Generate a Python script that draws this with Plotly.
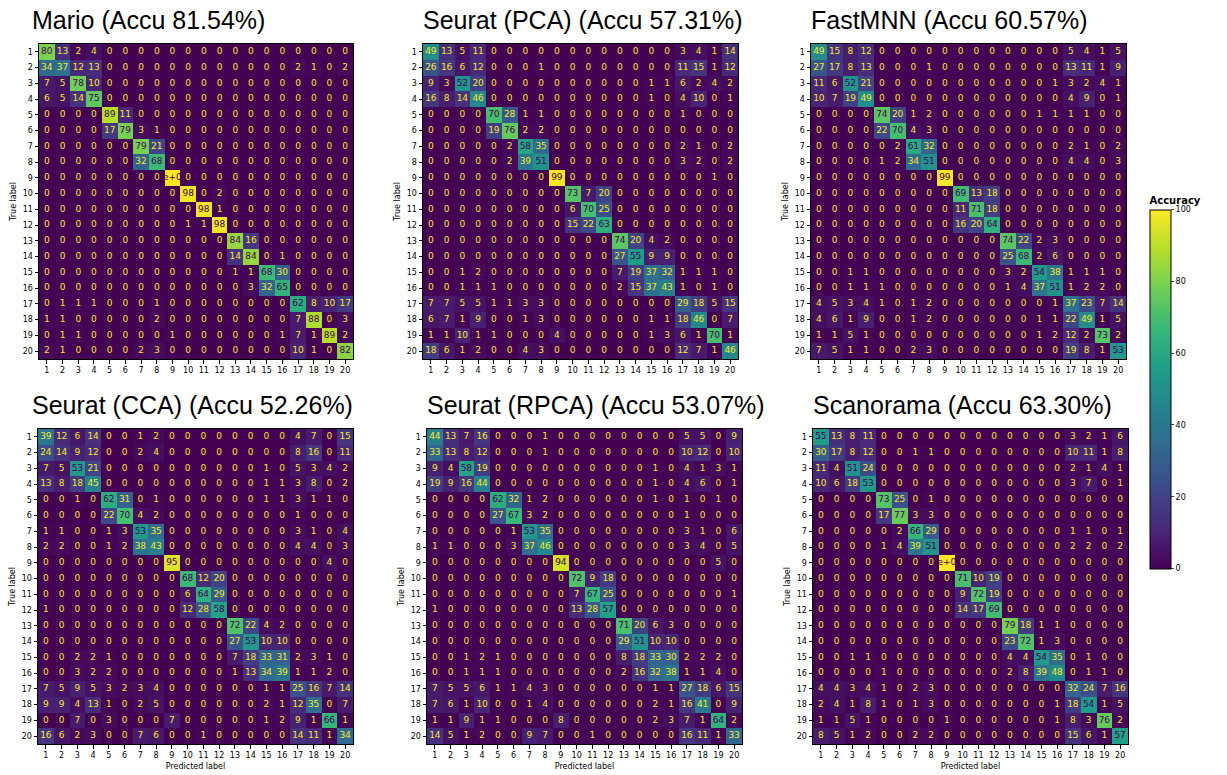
import plotly.graph_objects as go

W, H = 1227, 775

labels = [str(i) for i in range(1, 21)]

mario = [
    [80, 13, 2, 4, 0, 0, 0, 0, 0, 0, 0, 0, 0, 0, 0, 0, 0, 0, 0, 0],
    [34, 37, 12, 13, 0, 0, 0, 0, 0, 0, 0, 0, 0, 0, 0, 0, 2, 1, 0, 2],
    [7, 5, 78, 10, 0, 0, 0, 0, 0, 0, 0, 0, 0, 0, 0, 0, 0, 0, 0, 0],
    [6, 5, 14, 75, 0, 0, 0, 0, 0, 0, 0, 0, 0, 0, 0, 0, 0, 0, 0, 0],
    [0, 0, 0, 0, 89, 11, 0, 0, 0, 0, 0, 0, 0, 0, 0, 0, 0, 0, 0, 0],
    [0, 0, 0, 0, 17, 79, 3, 1, 0, 0, 0, 0, 0, 0, 0, 0, 0, 0, 0, 0],
    [0, 0, 0, 0, 0, 0, 79, 21, 0, 0, 0, 0, 0, 0, 0, 0, 0, 0, 0, 0],
    [0, 0, 0, 0, 0, 0, 32, 68, 0, 0, 0, 0, 0, 0, 0, 0, 0, 0, 0, 0],
    [0, 0, 0, 0, 0, 0, 0, 0, 100, 0, 0, 0, 0, 0, 0, 0, 0, 0, 0, 0],
    [0, 0, 0, 0, 0, 0, 0, 0, 0, 98, 0, 2, 0, 0, 0, 0, 0, 0, 0, 0],
    [0, 0, 0, 0, 0, 0, 0, 0, 0, 0, 98, 1, 0, 0, 0, 0, 0, 0, 0, 0],
    [0, 0, 0, 0, 0, 0, 0, 0, 0, 1, 1, 98, 0, 0, 0, 0, 0, 0, 0, 0],
    [0, 0, 0, 0, 0, 0, 0, 0, 0, 0, 0, 0, 84, 16, 0, 0, 0, 0, 0, 0],
    [0, 0, 0, 0, 0, 0, 0, 0, 0, 0, 0, 0, 14, 84, 0, 1, 0, 0, 0, 0],
    [0, 0, 0, 0, 0, 0, 0, 0, 0, 0, 0, 0, 1, 1, 68, 30, 0, 0, 0, 0],
    [0, 0, 0, 0, 0, 0, 0, 0, 0, 0, 0, 0, 0, 3, 32, 65, 0, 0, 0, 0],
    [0, 1, 1, 1, 0, 0, 0, 1, 0, 0, 0, 0, 0, 0, 0, 0, 62, 8, 10, 17],
    [1, 1, 0, 0, 0, 0, 0, 2, 0, 0, 0, 0, 0, 0, 0, 0, 7, 88, 0, 3],
    [0, 1, 1, 0, 0, 0, 0, 0, 1, 0, 0, 0, 0, 0, 0, 1, 7, 1, 89, 2],
    [2, 1, 0, 0, 0, 0, 2, 3, 0, 0, 0, 0, 0, 0, 0, 0, 10, 1, 0, 82],
]

seurat_pca = [
    [49, 13, 5, 11, 0, 0, 0, 0, 0, 0, 0, 0, 0, 0, 0, 0, 3, 4, 1, 14],
    [26, 16, 6, 12, 0, 0, 0, 1, 0, 0, 0, 0, 0, 0, 0, 0, 11, 15, 1, 12],
    [9, 3, 52, 20, 0, 0, 0, 0, 0, 0, 0, 0, 0, 0, 1, 1, 6, 2, 4, 2],
    [16, 8, 14, 46, 0, 0, 0, 0, 0, 0, 0, 0, 0, 0, 1, 0, 4, 10, 0, 1],
    [0, 0, 0, 0, 70, 28, 1, 1, 0, 0, 0, 0, 0, 0, 0, 0, 1, 0, 0, 0],
    [0, 0, 0, 0, 19, 76, 2, 2, 0, 0, 0, 0, 0, 0, 0, 0, 0, 0, 0, 0],
    [0, 0, 0, 0, 0, 2, 58, 35, 0, 0, 0, 0, 0, 0, 0, 0, 2, 1, 0, 2],
    [0, 0, 0, 0, 0, 2, 39, 51, 0, 0, 0, 0, 0, 0, 0, 0, 3, 2, 0, 2],
    [0, 0, 0, 0, 0, 0, 0, 0, 99, 0, 0, 0, 0, 0, 0, 0, 0, 0, 1, 0],
    [0, 0, 0, 0, 0, 0, 0, 0, 0, 73, 7, 20, 0, 0, 0, 0, 0, 0, 0, 0],
    [0, 0, 0, 0, 0, 0, 0, 0, 0, 6, 70, 25, 0, 0, 0, 0, 0, 0, 0, 0],
    [0, 0, 0, 0, 0, 0, 0, 0, 0, 15, 22, 63, 0, 0, 0, 0, 0, 0, 0, 0],
    [0, 0, 0, 0, 0, 0, 0, 0, 0, 0, 0, 0, 74, 20, 4, 2, 0, 0, 0, 0],
    [0, 0, 0, 0, 0, 0, 0, 0, 0, 0, 0, 0, 27, 55, 9, 9, 0, 0, 0, 0],
    [0, 0, 1, 2, 0, 0, 0, 0, 0, 0, 0, 0, 7, 19, 37, 32, 1, 1, 1, 0],
    [0, 0, 1, 1, 1, 0, 0, 0, 0, 0, 0, 0, 2, 15, 37, 43, 1, 0, 1, 0],
    [7, 7, 5, 5, 1, 1, 3, 3, 0, 0, 0, 0, 0, 0, 0, 0, 29, 18, 5, 15],
    [6, 7, 1, 9, 0, 0, 1, 3, 0, 0, 0, 0, 0, 0, 1, 1, 18, 46, 0, 7],
    [1, 1, 10, 1, 1, 0, 0, 0, 4, 0, 0, 0, 0, 0, 1, 3, 6, 1, 70, 1],
    [18, 6, 1, 2, 0, 0, 4, 3, 0, 0, 0, 0, 0, 0, 0, 0, 12, 7, 1, 46],
]

fastmnn = [
    [49, 15, 8, 12, 0, 0, 0, 0, 0, 0, 0, 0, 0, 0, 0, 0, 5, 4, 1, 5],
    [27, 17, 8, 13, 0, 0, 0, 1, 0, 0, 0, 0, 0, 0, 0, 0, 13, 11, 1, 9],
    [11, 6, 52, 21, 0, 0, 0, 0, 0, 0, 0, 0, 0, 0, 0, 1, 3, 2, 4, 1],
    [10, 7, 19, 49, 0, 0, 0, 0, 0, 0, 0, 0, 0, 0, 0, 0, 4, 9, 0, 1],
    [0, 0, 0, 0, 74, 20, 1, 2, 0, 0, 0, 0, 0, 0, 1, 1, 1, 1, 0, 0],
    [0, 0, 0, 0, 22, 70, 4, 3, 0, 0, 0, 0, 0, 0, 0, 0, 0, 0, 0, 0],
    [0, 0, 0, 0, 0, 2, 61, 32, 0, 0, 0, 0, 0, 0, 0, 0, 2, 1, 0, 2],
    [0, 0, 0, 0, 1, 2, 34, 51, 0, 0, 0, 0, 0, 0, 0, 0, 4, 4, 0, 3],
    [0, 0, 0, 0, 0, 0, 0, 0, 99, 0, 0, 0, 0, 0, 0, 0, 0, 0, 0, 0],
    [0, 0, 0, 0, 0, 0, 0, 0, 0, 69, 13, 18, 0, 0, 0, 0, 0, 0, 0, 0],
    [0, 0, 0, 0, 0, 0, 0, 0, 0, 11, 71, 18, 0, 0, 0, 0, 0, 0, 0, 0],
    [0, 0, 0, 0, 0, 0, 0, 0, 0, 16, 20, 64, 0, 0, 0, 0, 0, 0, 0, 0],
    [0, 0, 0, 0, 0, 0, 0, 0, 0, 0, 0, 0, 74, 22, 2, 3, 0, 0, 0, 0],
    [0, 0, 0, 0, 0, 0, 0, 0, 0, 0, 0, 0, 25, 68, 2, 6, 0, 0, 0, 0],
    [0, 0, 1, 1, 0, 0, 0, 0, 0, 0, 0, 0, 3, 2, 54, 38, 1, 1, 1, 0],
    [0, 0, 1, 1, 1, 0, 0, 0, 0, 0, 0, 0, 1, 4, 37, 51, 1, 2, 2, 0],
    [4, 5, 3, 4, 1, 0, 1, 2, 0, 0, 0, 0, 0, 0, 0, 1, 37, 23, 7, 14],
    [4, 6, 1, 9, 0, 0, 1, 2, 0, 0, 0, 0, 0, 0, 1, 1, 22, 49, 1, 5],
    [1, 1, 5, 1, 0, 0, 0, 0, 0, 0, 0, 0, 0, 0, 1, 2, 12, 2, 73, 2],
    [7, 5, 1, 1, 0, 0, 2, 3, 0, 0, 0, 0, 0, 0, 0, 0, 19, 8, 1, 53],
]

seurat_cca = [
    [39, 12, 6, 14, 0, 0, 1, 2, 0, 0, 0, 0, 0, 0, 0, 0, 4, 7, 0, 15],
    [24, 14, 9, 12, 0, 0, 2, 4, 0, 0, 0, 0, 0, 0, 0, 0, 8, 16, 0, 11],
    [7, 5, 53, 21, 0, 0, 0, 0, 0, 0, 0, 0, 0, 0, 1, 0, 5, 3, 4, 2],
    [13, 8, 18, 45, 0, 0, 0, 0, 0, 0, 0, 0, 0, 0, 1, 1, 3, 8, 0, 2],
    [0, 0, 1, 0, 62, 31, 0, 1, 0, 0, 0, 0, 0, 0, 1, 1, 3, 1, 1, 0],
    [0, 0, 0, 0, 22, 70, 4, 2, 0, 0, 0, 0, 0, 0, 0, 0, 1, 0, 0, 0],
    [1, 1, 0, 0, 1, 3, 53, 35, 0, 0, 0, 0, 0, 0, 0, 0, 3, 1, 0, 4],
    [2, 2, 0, 0, 1, 2, 38, 43, 0, 0, 0, 0, 0, 0, 0, 0, 4, 4, 0, 3],
    [0, 0, 0, 0, 0, 0, 0, 0, 95, 0, 0, 0, 0, 0, 0, 0, 0, 0, 4, 0],
    [0, 0, 0, 0, 0, 0, 0, 0, 0, 68, 12, 20, 0, 0, 0, 0, 0, 0, 0, 0],
    [0, 0, 0, 0, 0, 0, 0, 0, 0, 6, 64, 29, 0, 0, 0, 0, 0, 0, 0, 0],
    [1, 0, 0, 0, 0, 0, 0, 0, 0, 12, 28, 58, 0, 0, 0, 0, 0, 0, 0, 0],
    [0, 0, 0, 0, 0, 0, 0, 0, 0, 0, 0, 0, 72, 22, 4, 2, 0, 0, 0, 0],
    [0, 0, 0, 0, 0, 0, 0, 0, 0, 0, 0, 0, 27, 53, 10, 10, 0, 0, 0, 0],
    [0, 0, 2, 2, 1, 0, 0, 0, 0, 0, 0, 0, 7, 18, 33, 31, 2, 3, 1, 0],
    [0, 0, 3, 2, 2, 0, 0, 0, 0, 0, 0, 0, 1, 13, 34, 39, 1, 1, 2, 0],
    [7, 5, 9, 5, 3, 2, 3, 4, 0, 0, 0, 0, 0, 0, 1, 1, 25, 16, 7, 14],
    [9, 9, 4, 13, 1, 0, 2, 5, 0, 0, 0, 0, 0, 0, 2, 1, 12, 35, 0, 7],
    [0, 0, 7, 0, 3, 0, 0, 0, 7, 0, 0, 0, 0, 0, 1, 2, 9, 1, 66, 1],
    [16, 6, 2, 3, 0, 0, 7, 6, 0, 0, 1, 0, 0, 0, 0, 0, 14, 11, 1, 34],
]

seurat_rpca = [
    [44, 13, 7, 16, 0, 0, 0, 1, 0, 0, 0, 0, 0, 0, 0, 0, 5, 5, 0, 9],
    [33, 13, 8, 12, 0, 0, 0, 1, 0, 0, 0, 0, 0, 0, 0, 0, 10, 12, 0, 10],
    [9, 4, 58, 19, 0, 0, 0, 0, 0, 0, 0, 0, 0, 0, 1, 0, 4, 1, 3, 1],
    [19, 9, 16, 44, 0, 0, 0, 0, 0, 0, 0, 0, 0, 0, 1, 0, 4, 6, 0, 1],
    [0, 0, 0, 0, 62, 32, 1, 2, 0, 0, 0, 0, 0, 0, 1, 0, 1, 0, 1, 0],
    [0, 0, 0, 0, 27, 67, 3, 2, 0, 0, 0, 0, 0, 0, 0, 0, 1, 0, 0, 0],
    [0, 0, 0, 0, 0, 1, 53, 35, 0, 0, 0, 0, 0, 0, 0, 0, 3, 1, 0, 6],
    [1, 1, 0, 0, 0, 3, 37, 46, 0, 0, 0, 0, 0, 0, 0, 0, 3, 4, 0, 5],
    [0, 0, 0, 0, 0, 0, 0, 0, 94, 0, 0, 0, 0, 0, 0, 0, 0, 0, 5, 0],
    [0, 0, 0, 0, 0, 0, 0, 0, 0, 72, 9, 18, 0, 0, 0, 0, 0, 0, 0, 0],
    [0, 0, 0, 0, 0, 0, 0, 0, 0, 7, 67, 25, 0, 0, 0, 0, 0, 0, 0, 1],
    [1, 0, 0, 0, 0, 0, 0, 0, 0, 13, 28, 57, 0, 0, 0, 0, 0, 0, 0, 0],
    [0, 0, 0, 0, 0, 0, 0, 0, 0, 0, 0, 0, 71, 20, 6, 3, 0, 0, 0, 0],
    [0, 0, 0, 0, 0, 0, 0, 0, 0, 0, 0, 0, 29, 51, 10, 10, 0, 0, 0, 0],
    [0, 0, 1, 2, 1, 0, 0, 0, 0, 0, 0, 0, 8, 18, 33, 30, 2, 2, 2, 0],
    [0, 0, 1, 1, 1, 0, 0, 0, 0, 0, 0, 0, 2, 16, 32, 38, 1, 1, 4, 0],
    [7, 5, 5, 6, 1, 1, 4, 3, 0, 0, 0, 0, 0, 0, 1, 1, 27, 18, 6, 15],
    [7, 6, 1, 10, 0, 0, 1, 4, 0, 0, 0, 0, 0, 0, 2, 1, 16, 41, 0, 9],
    [1, 1, 9, 1, 1, 0, 0, 0, 8, 0, 0, 0, 0, 0, 2, 3, 7, 1, 64, 2],
    [14, 5, 1, 2, 0, 0, 9, 7, 0, 0, 1, 0, 0, 0, 0, 0, 16, 11, 1, 33],
]

scanorama = [
    [55, 13, 8, 11, 0, 0, 0, 0, 0, 0, 0, 0, 0, 0, 0, 0, 3, 2, 1, 6],
    [30, 17, 8, 12, 0, 0, 1, 1, 0, 0, 0, 0, 0, 0, 0, 0, 10, 11, 1, 8],
    [11, 4, 51, 24, 0, 0, 0, 0, 0, 0, 0, 0, 0, 0, 0, 0, 2, 1, 4, 1],
    [10, 6, 18, 53, 0, 0, 0, 0, 0, 0, 0, 0, 0, 0, 0, 0, 3, 7, 0, 1],
    [0, 0, 0, 0, 73, 25, 0, 1, 0, 0, 0, 0, 0, 0, 0, 0, 0, 0, 0, 0],
    [0, 0, 0, 0, 17, 77, 3, 3, 0, 0, 0, 0, 0, 0, 0, 0, 0, 0, 0, 0],
    [0, 0, 0, 0, 0, 2, 66, 29, 0, 0, 0, 0, 0, 0, 0, 0, 1, 1, 0, 1],
    [0, 0, 0, 0, 1, 4, 39, 51, 0, 0, 0, 0, 0, 0, 0, 0, 2, 2, 0, 2],
    [0, 0, 0, 0, 0, 0, 0, 0, 100, 0, 0, 0, 0, 0, 0, 0, 0, 0, 0, 0],
    [0, 0, 0, 0, 0, 0, 0, 0, 0, 71, 10, 19, 0, 0, 0, 0, 0, 0, 0, 0],
    [0, 0, 0, 0, 0, 0, 0, 0, 0, 9, 72, 19, 0, 0, 0, 0, 0, 0, 0, 0],
    [0, 0, 0, 0, 0, 0, 0, 0, 0, 14, 17, 69, 0, 0, 0, 0, 0, 0, 0, 0],
    [0, 0, 0, 0, 0, 0, 0, 0, 0, 0, 0, 0, 79, 18, 1, 1, 0, 0, 0, 0],
    [0, 0, 0, 0, 0, 0, 0, 0, 0, 0, 0, 0, 23, 72, 1, 3, 0, 0, 0, 0],
    [0, 0, 1, 1, 0, 0, 0, 0, 0, 0, 0, 0, 4, 4, 54, 35, 0, 1, 0, 0],
    [0, 0, 0, 0, 1, 0, 0, 0, 0, 0, 0, 0, 2, 8, 39, 48, 0, 1, 1, 0],
    [4, 4, 3, 4, 1, 0, 2, 3, 0, 0, 0, 0, 0, 0, 0, 0, 32, 24, 7, 16],
    [2, 4, 1, 8, 1, 0, 1, 3, 0, 0, 0, 0, 0, 0, 0, 1, 18, 54, 1, 5],
    [1, 1, 5, 1, 0, 0, 0, 0, 1, 0, 0, 0, 0, 0, 0, 1, 8, 3, 76, 2],
    [8, 5, 1, 2, 0, 0, 2, 2, 0, 0, 0, 0, 0, 0, 0, 0, 15, 6, 1, 57],
]

titles = [
    "Mario (Accu 81.54%)",
    "Seurat (PCA) (Accu 57.31%)",
    "FastMNN (Accu 60.57%)",
    "Seurat (CCA) (Accu 52.26%)",
    "Seurat (RPCA) (Accu 53.07%)",
    "Scanorama (Accu 63.30%)",
]
matrices = [mario, seurat_pca, fastmnn, seurat_cca, seurat_rpca, scanorama]

# panel boxes in pixels: (left, right, top, bottom)
boxes = [
    (39, 353, 44, 359),
    (423, 738, 44, 359),
    (811, 1126, 44, 359),
    (38, 353, 429, 744),
    (427, 742, 429, 744),
    (813, 1128, 429, 744),
]
# left edge of each panel title, in pixels
title_left = [30, 421, 809, 30, 425, 811]

DARK = "#440154"
BRIGHT = "#fde725"
TICK_FONT = dict(family="DejaVu Sans", size=8, color="black")

fig = go.Figure()
n = len(labels)
pos = list(range(1, n + 1))

for i, (cm, box) in enumerate(zip(matrices, boxes)):
    k = "" if i == 0 else str(i + 1)
    xa, ya = "x" + k, "y" + k
    fig.add_trace(go.Heatmap(
        z=cm, x=pos, y=pos, coloraxis="coloraxis",
        xaxis=xa, yaxis=ya, hoverinfo="skip",
    ))
    thresh = max(max(r) for r in cm) / 2.0
    tx, ty, tt, tc = [], [], [], []
    for r in range(n):
        for c in range(n):
            v = cm[r][c]
            tx.append(c + 1)
            ty.append(r + 1)
            tt.append(format(v, ".2g"))
            tc.append(DARK if v > thresh else BRIGHT)
    fig.add_trace(go.Scatter(
        x=tx, y=ty, text=tt, mode="text", xaxis=xa, yaxis=ya,
        textfont=dict(family="DejaVu Sans", size=9, color=tc),
        hoverinfo="skip", showlegend=False, cliponaxis=False,
    ))

    left, right, top, bottom = box
    bottom_row = i >= 3
    fig.layout["xaxis" + k] = dict(
        domain=[left / W, right / W], anchor=ya,
        range=[0.5, n + 0.5], tickmode="array", tickvals=pos, ticktext=labels,
        ticks="outside", ticklen=3.5, tickwidth=0.8, tickcolor="black",
        showline=True, mirror=True, linecolor="black", linewidth=1,
        showgrid=False, zeroline=False, tickfont=TICK_FONT,
        title=dict(text="Predicted label" if bottom_row else "",
                   font=TICK_FONT, standoff=4),
    )
    fig.layout["yaxis" + k] = dict(
        domain=[1 - bottom / H, 1 - top / H], anchor=xa,
        range=[n + 0.5, 0.5], tickmode="array", tickvals=pos, ticktext=labels,
        ticks="outside", ticklen=3.5, tickwidth=0.8, tickcolor="black",
        showline=True, mirror=True, linecolor="black", linewidth=1,
        showgrid=False, zeroline=False, tickfont=TICK_FONT,
        title=dict(text="True label", font=TICK_FONT, standoff=4),
    )
    fig.add_annotation(
        text=titles[i], xref="paper", yref="paper",
        x=title_left[i] / W, y=1 - (top - 24) / H,
        xanchor="left", yanchor="middle", showarrow=False,
        font=dict(family="Liberation Sans", size=25, color="black"),
    )

fig.update_layout(
    width=W, height=H,
    margin=dict(l=0, r=0, t=0, b=0),
    paper_bgcolor="white", plot_bgcolor="white",
    coloraxis=dict(
        colorscale="Viridis", cmin=0, cmax=100,
        colorbar=dict(
            x=1150 / W, xanchor="left", xpad=0,
            y=1 - 381 / H, yanchor="middle",
            lenmode="pixels", len=395, thickness=21,
            outlinewidth=1, outlinecolor="black",
            tickvals=[0, 20, 40, 60, 80, 100], ticks="outside", ticklen=3,
            tickfont=TICK_FONT,
            title=dict(text="<b>Accuracy</b>", side="top",
                       font=dict(family="DejaVu Sans", size=10, color="black")),
        ),
    ),
)

fig.write_html("out.html")
